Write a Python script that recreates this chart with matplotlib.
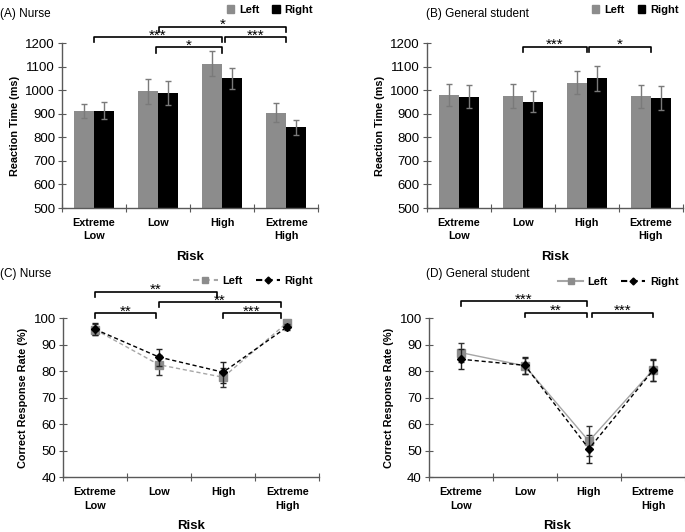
import matplotlib
matplotlib.use("Agg")
import matplotlib.pyplot as plt
from matplotlib.patches import Patch
from matplotlib.lines import Line2D
import numpy as np

plt.rcParams['font.family'] = ['Liberation Sans', 'DejaVu Sans']

categories = ["Extreme\nLow", "Low", "High", "Extreme\nHigh"]

# Reaction time (ms)
rt_nurse_left = [912, 995, 1113, 905]
rt_nurse_left_err = [30, 53, 54, 40]
rt_nurse_right = [913, 988, 1050, 842]
rt_nurse_right_err = [36, 49, 45, 33]

rt_stu_left = [980, 975, 1032, 975]
rt_stu_left_err = [47, 50, 50, 49]
rt_stu_right = [973, 952, 1050, 967]
rt_stu_right_err = [50, 43, 53, 49]

# Correct response rate (%)
cr_nurse_left = [95.7, 82.4, 77.7, 98.3]
cr_nurse_left_err = [2.0, 3.8, 3.5, 1.0]
cr_nurse_right = [95.8, 85.3, 79.6, 96.7]
cr_nurse_right_err = [2.3, 3.2, 4.0, 1.2]

cr_stu_left = [87.0, 82.0, 53.6, 80.5]
cr_stu_left_err = [3.5, 3.0, 5.6, 4.2]
cr_stu_right = [84.5, 82.2, 50.7, 80.3]
cr_stu_right_err = [3.7, 3.3, 5.2, 4.0]

# significance brackets: (x1, x2, y, label)
sig_A = [(0.0, 2.0, 1225, "***"), (1.02, 3.0, 1270, "*"),
         (0.97, 2.0, 1182, "*"), (2.05, 3.0, 1225, "***")]
sig_B = [(1.0, 2.0, 1184, "***"), (2.03, 3.0, 1184, "*")]
sig_C = [(0.0, 1.9, 109.9, "**"), (1.0, 2.9, 106.0, "**"),
         (0.0, 0.95, 101.8, "**"), (2.0, 2.9, 101.8, "***")]
sig_D = [(0.0, 1.97, 106.3, "***"), (1.0, 1.97, 102.1, "**"),
         (2.05, 3.0, 102.1, "***")]

LEFT_C = '#8c8c8c'
SPINE = '#595959'

fig = plt.figure(figsize=(6.85, 5.32), dpi=100)

W = 0.374
axA = fig.add_axes([0.0905, 0.609, W, 0.310])
axB = fig.add_axes([0.623, 0.609, W, 0.310])
axC = fig.add_axes([0.092, 0.103, W, 0.299])
axD = fig.add_axes([0.626, 0.103, W, 0.299])

x = np.arange(len(categories))


def style(ax, ylim, yticks, ylabel):
    ax.set_xlim(-0.5, 3.5)
    ax.set_ylim(*ylim)
    for s in ['top', 'right']:
        ax.spines[s].set_visible(False)
    for s in ['left', 'bottom']:
        ax.spines[s].set_color(SPINE)
        ax.spines[s].set_linewidth(1.0)
    ax.set_xticks([-0.5, 0.5, 1.5, 2.5, 3.5])
    ax.set_xticklabels([])
    ax.set_xticks(x, minor=True)
    ax.set_xticklabels(categories, minor=True, fontsize=7.8, fontweight='bold',
                       linespacing=1.45)
    ax.tick_params(axis='x', which='minor', length=0, pad=7)
    ax.tick_params(axis='x', which='major', direction='inout', length=6,
                   color=SPINE)
    ax.set_yticks(yticks)
    ax.tick_params(axis='y', direction='inout', length=6, color=SPINE,
                   labelsize=9.5, pad=2)
    ax.set_ylabel(ylabel, fontsize=7.8, fontweight='bold', labelpad=4)
    ax.set_xlabel("Risk", fontsize=9.5, fontweight='bold', labelpad=7)


def brackets(ax, sigs, drop, gap):
    for x1, x2, y, lab in sigs:
        ax.plot([x1, x1, x2, x2], [y - drop, y, y, y - drop], color='black',
                lw=1.2, clip_on=False)
        ax.text((x1 + x2) / 2, y + gap, lab, ha='center', va='center',
                fontsize=11, clip_on=False)


def bars(ax, left, lerr, right, rerr):
    w = 0.31
    ax.bar(x - w / 2, left, w, color=LEFT_C, zorder=2)
    ax.bar(x + w / 2, right, w, color='black', zorder=2)
    ax.errorbar(x - w / 2, left, yerr=lerr, fmt='none', ecolor='#7a7a7a',
                elinewidth=1, capsize=2.5, zorder=3)
    ax.errorbar(x + w / 2, right, yerr=rerr, fmt='none', ecolor='#7a7a7a',
                elinewidth=1, capsize=2.5, zorder=3)


bars(axA, rt_nurse_left, rt_nurse_left_err, rt_nurse_right, rt_nurse_right_err)
bars(axB, rt_stu_left, rt_stu_left_err, rt_stu_right, rt_stu_right_err)
for ax in (axA, axB):
    style(ax, (500, 1200), np.arange(500, 1201, 100), "Reaction Time (ms)")
brackets(axA, sig_A, 22, 8)
brackets(axB, sig_B, 22, 8)


def lines(ax, left, lerr, right, rerr, left_ls):
    ax.errorbar(x, left, yerr=lerr, color='#a6a6a6', ls=left_ls, lw=1,
                marker='s', ms=5.5, mfc=LEFT_C, mec=LEFT_C, ecolor='#333333',
                elinewidth=1, capsize=2.5, zorder=2)
    ax.errorbar(x, right, yerr=rerr, color='black', ls=(0, (3, 2)), lw=1,
                marker='D', ms=4, mfc='black', mec='black', ecolor='#222222',
                elinewidth=1, capsize=2.5, zorder=3)


lines(axC, cr_nurse_left, cr_nurse_left_err, cr_nurse_right, cr_nurse_right_err,
      (0, (3, 2)))
lines(axD, cr_stu_left, cr_stu_left_err, cr_stu_right, cr_stu_right_err, '-')
for ax in (axC, axD):
    style(ax, (40, 100), np.arange(40, 101, 10), "Correct Response Rate (%)")
brackets(axC, sig_C, 1.8, 0.7)
brackets(axD, sig_D, 1.8, 0.7)

# titles
fig.text(0.0, 0.973, "(A) Nurse", fontsize=8.5, va='center', ha='left')
fig.text(0.622, 0.973, "(B) General student", fontsize=8.5, va='center', ha='left')
fig.text(0.0, 0.485, "(C) Nurse", fontsize=8.5, va='center', ha='left')
fig.text(0.622, 0.485, "(D) General student", fontsize=8.5, va='center', ha='left')

# legends
bar_handles = [Patch(color=LEFT_C, label='Left'), Patch(color='black', label='Right')]
for bb in [(0.472, 0.982), (1.005, 0.982)]:
    fig.legend(handles=bar_handles, loc='center right', bbox_to_anchor=bb,
               ncol=2, frameon=False,
               prop={'weight': 'bold', 'size': 8},
               handlelength=0.7, handleheight=0.7, handletextpad=0.4,
               columnspacing=1.2)

hC = [Line2D([], [], color='#a6a6a6', ls=(0, (3, 2)), marker='s', ms=5,
             mfc=LEFT_C, mec=LEFT_C, label='Left'),
      Line2D([], [], color='black', ls=(0, (3, 2)), marker='D', ms=3.5,
             label='Right')]
hD = [Line2D([], [], color='#a6a6a6', ls='-', marker='s', ms=5,
             mfc=LEFT_C, mec=LEFT_C, label='Left'),
      Line2D([], [], color='black', ls=(0, (3, 2)), marker='D', ms=3.5,
             label='Right')]
fig.legend(handles=hC, loc='center right', bbox_to_anchor=(0.472, 0.472),
           ncol=2, frameon=False, prop={'weight': 'bold', 'size': 8},
           handlelength=2.2, handletextpad=0.4, columnspacing=1.2)
fig.legend(handles=hD, loc='center right', bbox_to_anchor=(1.005, 0.470),
           ncol=2, frameon=False, prop={'weight': 'bold', 'size': 8},
           handlelength=2.2, handletextpad=0.4, columnspacing=1.2)

fig.savefig("out.png", dpi=100)
